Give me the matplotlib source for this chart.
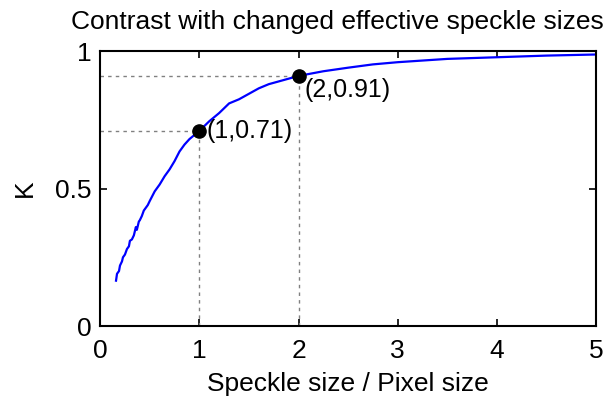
import matplotlib
matplotlib.use("Agg")
import matplotlib.pyplot as plt

plt.rcParams['font.family'] = ['Liberation Sans', 'DejaVu Sans']

# contrast K against speckle size (in pixels)
speckle = [0.16, 0.17, 0.19, 0.20, 0.22, 0.23, 0.25, 0.27, 0.29, 0.30, 0.32, 0.34,
           0.36, 0.37, 0.39, 0.40, 0.42, 0.44, 0.46, 0.48, 0.50, 0.55, 0.60, 0.65,
           0.70, 0.75, 0.80, 0.85, 0.90, 0.95, 1.00, 1.10, 1.20, 1.30, 1.40, 1.50,
           1.60, 1.70, 1.80, 1.90, 2.00, 2.25, 2.50, 2.75, 3.00, 3.50, 4.00, 4.50, 5.00]
K = [0.165, 0.19, 0.20, 0.22, 0.235, 0.25, 0.26, 0.28, 0.29, 0.31, 0.315, 0.33,
     0.36, 0.35, 0.38, 0.385, 0.40, 0.42, 0.43, 0.44, 0.455, 0.49, 0.515, 0.545,
     0.57, 0.60, 0.635, 0.66, 0.68, 0.695, 0.71, 0.745, 0.775, 0.81, 0.825, 0.845,
     0.865, 0.88, 0.89, 0.90, 0.91, 0.927, 0.94, 0.952, 0.96, 0.972, 0.978, 0.984, 0.988]

mark_x = [1, 2]
mark_y = [0.71, 0.91]
mark_txt = ["(1,0.71)", "(2,0.91)"]

fig = plt.figure(figsize=(6.07, 4.0), dpi=100)
ax = fig.add_axes([0.165, 0.185, 0.817, 0.687])

for mx, my in zip(mark_x, mark_y):
    ax.plot([0, mx], [my, my], color="#808080", ls=(0, (2.5, 3)), lw=1)
    ax.plot([mx, mx], [0, my], color="#808080", ls=(0, (2.5, 3)), lw=1)

ax.plot(speckle, K, color="#0000ff", lw=1.6)
ax.plot(mark_x, mark_y, "o", color="black", ms=9.5)

ax.annotate(mark_txt[0], (mark_x[0], mark_y[0]), xytext=(5, 0), textcoords="offset points",
            fontsize=18, va="center", ha="left")
ax.annotate(mark_txt[1], (mark_x[1], mark_y[1]), xytext=(4, -10), textcoords="offset points",
            fontsize=18, va="center", ha="left")

ax.set_xlim(0, 5)
ax.set_ylim(0, 1)
ax.set_xticks([0, 1, 2, 3, 4, 5])
ax.set_yticks([0, 0.5, 1])
ax.set_yticklabels(["0", "0.5", "1"])
ax.tick_params(direction="in", length=5, width=1.2, labelsize=19, top=True, right=True)
ax.tick_params(axis="x", pad=9)
ax.tick_params(axis="y", pad=6)
for s in ax.spines.values():
    s.set_linewidth(1.5)

ax.set_xlabel("Speckle size / Pixel size", fontsize=19, labelpad=7)
ax.set_ylabel("K", fontsize=19, labelpad=13)
fig.text(0.555, 0.945, "Contrast with changed effective speckle sizes", fontsize=19,
         ha="center", va="center")

fig.savefig("out.png", dpi=100)
